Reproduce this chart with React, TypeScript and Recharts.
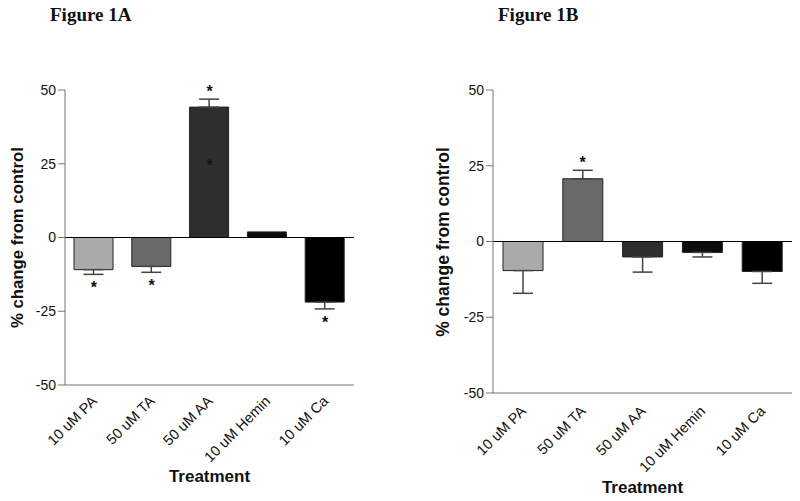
import { BarChart, Bar, XAxis, YAxis, Cell, ErrorBar, ReferenceLine, ReferenceDot } from 'recharts';

const treatments = ['10 uM PA', '50 uM TA', '50 uM AA', '10 uM Hemin', '10 uM Ca'];
const fills = ['#aaaaaa', '#6a6a6a', '#2e2e2e', '#0c0c0c', '#000000'];
const yTicks = [-50, -25, 0, 25, 50];

// Figure 1A
const changeA = [-10.9, -9.8, 44.2, 1.9, -21.9];
const semA = [1.6, 2.0, 2.7, null, 2.3];
const sigA = [true, true, true, false, true];
const innerStarA = [null, null, 25.7, null, null];

// Figure 1B
const changeB = [-9.6, 20.7, -5.1, -3.6, -9.9];
const semB = [7.5, 2.8, 5.0, 1.5, 3.9];
const sigB = [false, true, false, false, false];
const innerStarB = [null, null, null, null, null];

const SANS = '"Liberation Sans", Arial, sans-serif';
const SERIF = '"Liberation Serif", "Times New Roman", serif';

type Row = { name: string; value: number; err: number[] | null; sig: boolean; inner: number | null; sem: number };

function buildRows(values: number[], sems: (number | null)[], sig: boolean[], inner: (number | null)[]): Row[] {
  return treatments.map((t, i) => {
    const s = sems[i];
    return {
      name: t,
      value: values[i],
      err: s == null ? null : values[i] < 0 ? [s, 0] : [0, s],
      sig: sig[i],
      inner: inner[i],
      sem: s ?? 0,
    };
  });
}

const starShape = (dy: number) => (p: any) => (
  <text x={p.cx} y={p.cy + dy} textAnchor="middle" fontSize={16} fontWeight="bold" fontFamily={SANS} fill="#111">
    *
  </text>
);

function AngledTick(props: any) {
  const { x, y, payload, dy } = props;
  const tx = x + 4;
  const ty = y + dy;
  return (
    <text x={tx} y={ty} textAnchor="end" transform={`rotate(-45 ${tx} ${ty})`} fontSize={14.5} fontFamily={SANS} fill="#111">
      {payload.value}
    </text>
  );
}

type PanelProps = {
  left: number;
  rows: Row[];
  margin: { top: number; right: number; bottom: number; left: number };
  barSize: number;
  tickDy: number;
};

function Panel({ left, rows, margin, barSize, tickDy }: PanelProps) {
  return (
    <div style={{ position: 'absolute', left, top: 0 }}>
      <BarChart width={400} height={501} data={rows} margin={margin}>
        <XAxis
          dataKey="name"
          interval={0}
          tickLine={false}
          tickSize={0}
          tickMargin={0}
          height={100}
          axisLine={{ stroke: '#777' }}
          tick={(p: any) => <AngledTick {...p} dy={tickDy} />}
        />
        <YAxis
          type="number"
          domain={[-50, 50]}
          ticks={yTicks}
          width={45}
          tickSize={7}
          tickMargin={2}
          axisLine={{ stroke: '#777' }}
          tickLine={{ stroke: '#777' }}
          tick={{ fontSize: 14, fill: '#111', fontFamily: SANS }}
          allowDataOverflow
        />
        <ReferenceLine y={0} stroke="#000" strokeWidth={1} />
        <Bar dataKey="value" barSize={barSize} stroke="#222" strokeWidth={1} isAnimationActive={false}>
          {rows.map((r, i) => (
            <Cell key={r.name} fill={fills[i]} />
          ))}
          <ErrorBar dataKey="err" width={10} stroke="#444" strokeWidth={1.5} direction="y" isAnimationActive={false} />
        </Bar>
        {rows.filter(r => r.sig).map(r => (
          <ReferenceDot
            key={`sig-${r.name}`}
            x={r.name}
            y={r.value < 0 ? r.value - r.sem : r.value + r.sem}
            r={0}
            shape={starShape(r.value < 0 ? 19 : -2)}
          />
        ))}
        {rows.filter(r => r.inner != null).map(r => (
          <ReferenceDot key={`in-${r.name}`} x={r.name} y={r.inner as number} r={0} shape={starShape(9)} />
        ))}
      </BarChart>
    </div>
  );
}

export default function App() {
  const rowsA = buildRows(changeA, semA, sigA, innerStarA);
  const rowsB = buildRows(changeB, semB, sigB, innerStarB);
  return (
    <div style={{ position: 'absolute', left: 0, top: 0, width: 800, height: 501, background: '#fff' }}>
      <Panel left={0} rows={rowsA} margin={{ top: 90, right: 46, bottom: 16, left: 20 }} barSize={39} tickDy={17} />
      <Panel left={400} rows={rowsB} margin={{ top: 90, right: 8, bottom: 8, left: 48 }} barSize={40} tickDy={19} />
      <svg width={800} height={501} style={{ position: 'absolute', left: 0, top: 0, pointerEvents: 'none' }}>
        <text x={50} y={21} fontFamily={SERIF} fontWeight="bold" fontSize={19} fill="#111">Figure 1A</text>
        <text x={498} y={21} fontFamily={SERIF} fontWeight="bold" fontSize={19} fill="#111">Figure 1B</text>
        <text x={23} y={237.5} transform="rotate(-90 23 237.5)" textAnchor="middle" fontFamily={SANS} fontWeight="bold" fontSize={16.7} fill="#111">
          % change from control
        </text>
        <text x={449} y={242} transform="rotate(-90 449 242)" textAnchor="middle" fontFamily={SANS} fontWeight="bold" fontSize={17.5} fill="#111">
          % change from control
        </text>
        <text x={209.5} y={481.7} textAnchor="middle" fontFamily={SANS} fontWeight="bold" fontSize={17} fill="#111">Treatment</text>
        <text x={642.5} y={492.7} textAnchor="middle" fontFamily={SANS} fontWeight="bold" fontSize={17} fill="#111">Treatment</text>
      </svg>
    </div>
  );
}
